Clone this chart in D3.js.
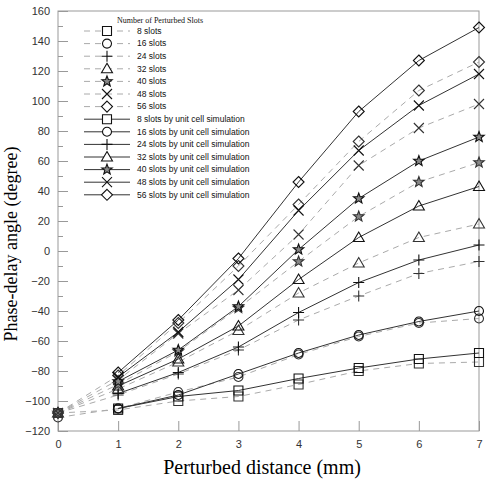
<!DOCTYPE html>
<html>
<head>
<meta charset="utf-8">
<script src="https://cdn.jsdelivr.net/npm/d3@7/dist/d3.min.js"></script>
<style>
  body { margin: 0; background: #fff; }
  svg { display: block; }
  .tick text { font-family: "Liberation Sans", Arial, sans-serif; font-size: 11px; fill: #333; }
  .tick line { stroke: #999; }
  .legend text { font-family: "Liberation Sans", Arial, sans-serif; font-size: 8.5px; fill: #111; }
</style>
</head>
<body>
<svg class="graph" width="489" height="483"></svg>
<script>
// distances (mm)
var distMeasured = [0, 1, 2, 3, 4, 5, 6, 7];
var distSim = [1, 2, 3, 4, 5, 6, 7];
var slotCounts = [8, 16, 24, 32, 40, 48, 56];
var xTicks = [0, 1, 2, 3, 4, 5, 6, 7];
var yTicks = [-120, -100, -80, -60, -40, -20, 0, 20, 40, 60, 80, 100, 120, 140, 160];

// measured phase delay (degree), dashed
var meas8 = [-108, -106, -100, -97, -89, -80, -75, -74];
var meas16 = [-111, -105, -94, -84, -69, -57, -48, -45];
var meas24 = [-108, -96, -82, -66, -46, -30, -15, -7];
var meas32 = [-108, -92, -74, -53, -28, -8, 9, 18];
var meas40 = [-108, -89, -67, -38, -7, 23, 46, 59];
var meas48 = [-108, -86, -55, -26, 11, 57, 82, 98];
var meas56 = [-108, -83, -48, -10, 31, 73, 107, 126];

// unit cell simulation (degree), solid
var sim8 = [-105, -97, -93, -85, -78, -72, -68];
var sim16 = [-105, -96, -82, -68, -56, -47, -40];
var sim24 = [-95, -81, -64, -41, -21, -6, 4];
var sim32 = [-90, -72, -50, -19, 9, 30, 43];
var sim40 = [-87, -66, -37, 1, 35, 60, 76];
var sim48 = [-84, -54, -19, 27, 67, 97, 118];
var sim56 = [-81, -46, -5, 46, 93, 127, 149];

var measured = [meas8, meas16, meas24, meas32, meas40, meas48, meas56];
var simulated = [sim8, sim16, sim24, sim32, sim40, sim48, sim56];
var markers = ["square", "circle", "plus", "triangle", "star", "times", "diamond"];

var svgElem = d3.select("svg.graph"),
    width = +svgElem.attr("width"),
    height = +svgElem.attr("height");

var x = d3.scaleLinear().domain([0, 7]).range([58, 479]);
var y = d3.scaleLinear().domain([-120, 160]).range([431, 11]);

function markerPath(type) {
    var p = d3.path();
    if (type === "square") { p.rect(-4.5, -4.5, 9, 9); }
    else if (type === "circle") { p.moveTo(4.5, 0); p.arc(0, 0, 4.5, 0, 2 * Math.PI); }
    else if (type === "plus") { p.moveTo(-5.5, 0); p.lineTo(5.5, 0); p.moveTo(0, -5.5); p.lineTo(0, 5.5); }
    else if (type === "triangle") { p.moveTo(0, -5.5); p.lineTo(5.5, 4); p.lineTo(-5.5, 4); p.closePath(); }
    else if (type === "times") { p.moveTo(-5, -5); p.lineTo(5, 5); p.moveTo(5, -5); p.lineTo(-5, 5); }
    else if (type === "diamond") { p.moveTo(0, -5.5); p.lineTo(5.5, 0); p.lineTo(0, 5.5); p.lineTo(-5.5, 0); p.closePath(); }
    else if (type === "star") {
        for (var i = 0; i < 10; i++) {
            var r = i % 2 === 0 ? 5.5 : 2.3, a = -Math.PI / 2 + i * Math.PI / 5;
            if (i === 0) p.moveTo(r * Math.cos(a), r * Math.sin(a));
            else p.lineTo(r * Math.cos(a), r * Math.sin(a));
        }
        p.closePath();
    }
    return p.toString();
}

// axes (ticks inside the frame)
var xAxis = svgElem.append("g")
    .attr("transform", "translate(0," + y(-120) + ")")
    .call(d3.axisBottom(x).tickValues(xTicks).tickFormat(d3.format("d")).tickSize(-10).tickPadding(9));
xAxis.select(".domain").remove();

var yMinor = svgElem.append("g")
    .attr("transform", "translate(" + x(0) + ",0)")
    .call(d3.axisLeft(y).tickValues(d3.range(-110, 160, 20)).tickSize(-5).tickFormat(""));
yMinor.select(".domain").remove();

var yAxis = svgElem.append("g")
    .attr("transform", "translate(" + x(0) + ",0)")
    .call(d3.axisLeft(y).tickValues(yTicks).tickFormat(d3.format("d")).tickSize(-10).tickPadding(8));
yAxis.select(".domain").remove();

svgElem.append("rect")
    .attr("x", x(0)).attr("y", y(160))
    .attr("width", x(7) - x(0)).attr("height", y(-120) - y(160))
    .attr("fill", "none").attr("stroke", "#999").attr("stroke-width", 1);

// axis titles
svgElem.append("text")
    .attr("x", 262).attr("y", 474)
    .attr("text-anchor", "middle")
    .style("font-family", "'Liberation Serif', 'Times New Roman', serif")
    .style("font-size", "20px")
    .text("Perturbed distance (mm)");

svgElem.append("text")
    .attr("transform", "translate(17,244) rotate(-90)")
    .attr("text-anchor", "middle")
    .style("font-family", "'Liberation Serif', 'Times New Roman', serif")
    .style("font-size", "18px")
    .text("Phase-delay angle (degree)");

// series
var measLine = d3.line().x(function (d, i) { return x(distMeasured[i]); }).y(function (d) { return y(d); });
var simLine = d3.line().x(function (d, i) { return x(distSim[i]); }).y(function (d) { return y(d); });

svgElem.append("g").selectAll("path")
    .data(measured).enter().append("path")
    .attr("d", measLine)
    .attr("fill", "none").attr("stroke", "#aaa").attr("stroke-width", 1)
    .attr("stroke-dasharray", "6,5");

svgElem.append("g").selectAll("path")
    .data(simulated).enter().append("path")
    .attr("d", simLine)
    .attr("fill", "none").attr("stroke", "#333").attr("stroke-width", 1);

function drawMarkers(series, xs, color) {
    series.forEach(function (vals, k) {
        svgElem.append("g").selectAll("path")
            .data(vals).enter().append("path")
            .attr("transform", function (d, i) { return "translate(" + x(xs[i]) + "," + y(d) + ")"; })
            .attr("d", markerPath(markers[k]))
            .attr("fill", markers[k] === "star" ? "#888" : "none")
            .attr("stroke", color).attr("stroke-width", 1.1);
    });
}
drawMarkers(measured, distMeasured, "#333");
drawMarkers(simulated, distSim, "#111");

// legend
var legend = svgElem.append("g").attr("class", "legend");
legend.append("text")
    .attr("x", 117).attr("y", 23)
    .style("font-family", "'Liberation Serif', 'Times New Roman', serif")
    .style("font-size", "8px")
    .text("Number of Perturbed Slots");

var legendRows = [];
slotCounts.forEach(function (s, k) { legendRows.push({ label: s + " slots", type: markers[k], sim: false }); });
slotCounts.forEach(function (s, k) { legendRows.push({ label: s + " slots by unit cell simulation", type: markers[k], sim: true }); });

var row = legend.selectAll("g.row")
    .data(legendRows).enter().append("g")
    .attr("class", "row")
    .attr("transform", function (d, i) { return "translate(0," + (31 + i * 12.6) + ")"; });

row.append("line")
    .attr("x1", 84).attr("x2", 130)
    .attr("stroke", function (d) { return d.sim ? "#333" : "#aaa"; })
    .attr("stroke-dasharray", function (d) { return d.sim ? null : "6,5"; });

row.append("path")
    .attr("transform", "translate(107,0)")
    .attr("d", function (d) { return markerPath(d.type); })
    .attr("fill", function (d) { return d.type === "star" ? "#888" : "#fff"; })
    .attr("stroke", "#111").attr("stroke-width", 1.1);

row.append("text")
    .attr("x", 137).attr("dy", "0.33em")
    .text(function (d) { return d.label; });
</script>
</body>
</html>
